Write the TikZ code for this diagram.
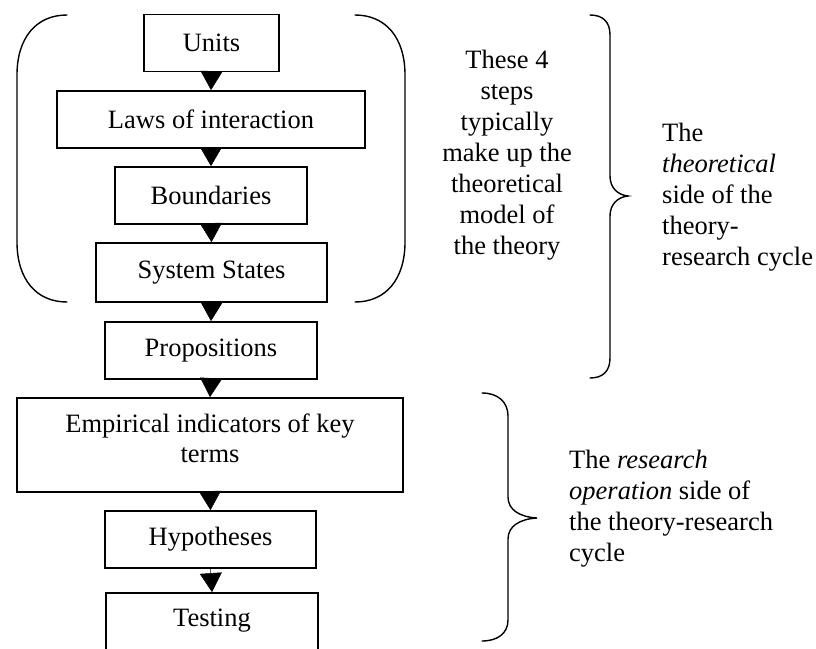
\documentclass[tikz,border=0pt]{standalone}
\usepackage{fontspec}
\setmainfont{Liberation Serif}
\usetikzlibrary{arrows.meta}
\begin{document}
\begin{tikzpicture}[x=1pt,y=-1pt,
  stepbox/.style={draw, line width=1.8pt, inner sep=0pt, minimum height=57pt,
    font=\fontsize{26.5}{31}\selectfont},
  flow/.style={line width=0.5pt, -{Triangle[width=22pt,length=19pt]}},
  bracket/.style={line width=1.4pt, line cap=round},
  note/.style={inner sep=0pt, font=\fontsize{26.5}{31}\selectfont}]
\useasboundingbox (0,0) rectangle (816,648);

% the chain of steps
\node[stepbox, minimum width=135pt] (units) at (211.5,43) {Units};
\node[stepbox, minimum width=308pt] (laws) at (211,119.5) {Laws of interaction};
\node[stepbox, minimum width=192pt] (bounds) at (211,195.5) {Boundaries};
\node[stepbox, minimum width=231pt, minimum height=59pt] (states) at (211.5,272.5) {System States};
\node[stepbox, minimum width=212pt] (props) at (211,350.5) {Propositions};
\node[stepbox, minimum width=386pt, minimum height=94pt] (emp) at (210,445) {};
\node[note, align=center, font=\fontsize{26.5}{30}\selectfont] (emptext) at ([yshift=7pt]emp.center)
  {Empirical indicators of key\\terms};
\node[stepbox, minimum width=211pt] (hyp) at (210.5,539.5) {Hypotheses};
\node[stepbox, minimum width=212pt, minimum height=62pt] (test) at (212,624) {};
\node[note] (testtext) at ([yshift=3pt]test.center) {Testing};

% arrows between the steps
\draw[flow] (units.south) -- (laws.north);
\draw[flow] (laws.south) -- (bounds.north);
\draw[flow] (bounds.south) -- (states.north);
\draw[flow] (states.south) -- (props.north);
\draw[flow] (props.south) -- (emp.north);
\draw[flow] (emp.south) -- (hyp.north);
\draw[flow] (hyp.south) -- (test.north);

% round brackets around the first four steps
\draw[bracket] (67,15) .. controls (36,15) and (17,38) .. (17,75)
  -- (17,242) .. controls (17,279) and (36,302) .. (67,302);
\draw[bracket] (355,15) .. controls (386,15) and (405,38) .. (405,75)
  -- (405,242) .. controls (405,279) and (386,302) .. (355,302);

\node[note, align=center] (model) at (507,155)
  {These 4\\steps\\typically\\make up the\\theoretical\\model of\\the theory};

% upper curly brace
\draw[bracket] (590,15) .. controls (603,15) and (610,22) .. (610,35)
  -- (610,176) .. controls (610,188) and (618,195) .. (628,196)
  .. controls (618,197) and (610,204) .. (610,216)
  -- (610,358) .. controls (610,371) and (603,378) .. (590,378);
\node[note, align=left, anchor=west] (theo) at (662,197)
  {The\\\textit{theoretical}\\side of the\\theory-\\research cycle};

% lower curly brace
\draw[bracket] (482,393) .. controls (498,393) and (508,402) .. (508,416)
  -- (508,497) .. controls (508,510) and (520,517) .. (537,518)
  .. controls (520,519) and (508,526) .. (508,539)
  -- (508,620) .. controls (508,633) and (498,641) .. (482,641);
\node[note, align=left, anchor=west] (oper) at (569,508.5)
  {The \textit{research}\\\textit{operation} side of\\the theory-research\\cycle};
\end{tikzpicture}
\end{document}
